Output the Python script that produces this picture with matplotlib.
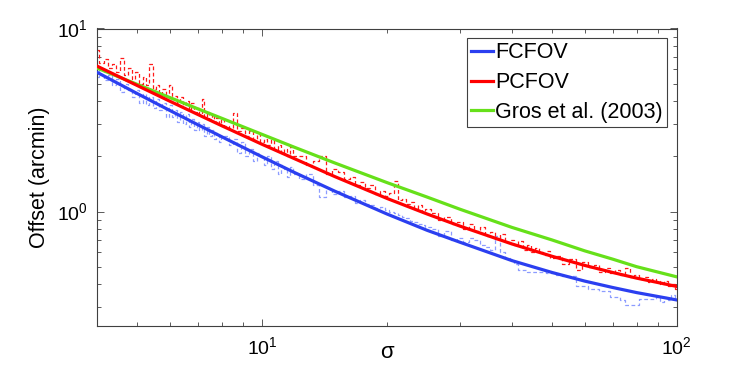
import matplotlib
matplotlib.use('Agg')
import matplotlib.pyplot as plt

plt.rcParams['font.family'] = ['Liberation Sans', 'DejaVu Sans']
plt.rcParams['mathtext.fontset'] = 'custom'
plt.rcParams['mathtext.rm'] = 'Liberation Sans'
plt.rcParams['mathtext.it'] = 'Liberation Sans:italic'

# smooth curves
sig_fit = [4, 5, 6, 7, 8, 10, 12, 15, 20, 25, 30, 40, 50, 60, 70, 80, 100]
fcfov_fit = [5.76, 4.41, 3.56, 2.98, 2.56, 1.99, 1.63, 1.29, 0.97, 0.79, 0.68,
             0.54, 0.465, 0.417, 0.385, 0.361, 0.329]
pcfov_fit = [6.23, 4.88, 4.00, 3.39, 2.94, 2.33, 1.94, 1.55, 1.18, 0.97, 0.833,
             0.666, 0.570, 0.508, 0.465, 0.433, 0.39]
gros_fit = [6.08, 4.95, 4.19, 3.64, 3.23, 2.64, 2.24, 1.84, 1.44, 1.20, 1.03,
            0.82, 0.70, 0.61, 0.55, 0.50, 0.44]

# binned measurements (dashed, noisy)
sig_bins = [4.0, 4.1, 4.2, 4.3, 4.4, 4.5, 4.6, 4.7, 4.8, 4.9,
            5.0, 5.1, 5.2, 5.3, 5.4, 5.5, 5.6, 5.7, 5.8, 5.9,
            6.0, 6.1, 6.2, 6.3, 6.4, 6.5, 6.6, 6.7, 6.8, 6.9,
            7.0, 7.1, 7.2, 7.3, 7.4, 7.5, 7.6, 7.7, 7.8, 7.9, 8.0,
            8.2, 8.4, 8.6, 8.8, 9.0, 9.2, 9.4, 9.6, 9.8, 10.0,
            10.2, 10.4, 10.6, 10.8, 11.0, 11.2, 11.4, 11.6, 11.8, 12.0,
            12.5, 13.0, 13.5, 14.0, 14.5, 15.0, 15.5, 16.0, 16.5, 17.0,
            17.5, 18.0, 18.5, 19.0, 19.5, 20.0, 20.5, 21.0, 21.5, 22.0,
            22.5, 23.0, 23.5, 24.0, 24.5, 25.0,
            26, 27, 28, 29, 30, 31, 32, 33, 34, 35, 36, 37, 38, 39, 40,
            41, 42, 43, 44, 45, 46, 47, 48, 49, 50,
            52, 54, 56, 58, 60, 62, 64, 66, 68, 70, 72, 74, 76, 78, 80,
            82, 84, 86, 88, 90, 92, 94, 96, 98, 100]
pcfov_meas = [7.6, 6.5, 6.8, 6.1, 6.4, 5.8, 6.9, 5.6, 6.1, 5.3,
              5.8, 5.0, 5.4, 4.9, 6.4, 4.7, 4.9, 4.4, 4.7, 4.2,
              4.9, 4.1, 4.3, 3.9, 4.2, 3.8, 4.0, 3.6, 3.9, 3.5,
              3.7, 3.4, 4.1, 3.3, 3.5, 3.2, 3.4, 3.1, 3.25, 3.0, 3.2,
              2.95, 2.85, 3.45, 2.75, 2.85, 2.6, 2.75, 2.5, 2.65, 2.4,
              2.5, 2.3, 2.45, 2.2, 2.3, 2.1, 2.2, 2.0, 2.25, 2.0,
              2.0, 1.8, 1.9, 2.0, 1.6, 1.7, 1.65, 1.5, 1.55, 1.4,
              1.45, 1.35, 1.4, 1.25, 1.3, 1.22, 1.27, 1.47, 1.16, 1.17,
              1.1, 1.13, 1.04, 1.09, 1.0, 1.03,
              0.98, 0.90, 0.93, 0.85, 0.88, 0.80, 0.86, 0.78, 0.82, 0.74,
              0.77, 0.71, 0.75, 0.68, 0.70, 0.66, 0.69, 0.62, 0.66, 0.60,
              0.63, 0.60, 0.58, 0.61, 0.56,
              0.57, 0.52, 0.55, 0.48, 0.53, 0.50, 0.51, 0.47, 0.49, 0.46,
              0.48, 0.45, 0.49, 0.44, 0.45, 0.43, 0.44, 0.41, 0.43, 0.42,
              0.40, 0.42, 0.39, 0.40, 0.38]
fcfov_meas = [5.4, 5.9, 5.2, 5.6, 4.9, 5.3, 4.5, 5.0, 4.6, 4.2,
              4.6, 3.9, 4.4, 3.8, 4.2, 3.7, 4.1, 3.6, 3.9, 3.3,
              3.8, 3.3, 3.6, 3.1, 3.5, 3.0, 3.4, 2.9, 3.2, 2.8,
              3.1, 2.8, 3.0, 2.6, 2.9, 2.6, 2.8, 2.5, 2.7, 2.4, 2.6,
              2.6, 2.3, 2.5, 2.1, 2.4, 2.0, 2.2, 1.9, 2.1, 2.0,
              1.8, 2.0, 1.7, 1.9, 1.6, 1.8, 1.7, 1.55, 1.75, 1.6,
              1.5, 1.6, 1.4, 1.2, 1.35, 1.25, 1.3, 1.2, 1.22, 1.12,
              1.15, 1.1, 1.08, 1.05, 1.06, 1.02, 1.0, 0.98, 0.96, 0.93,
              0.92, 0.89, 0.88, 0.86, 0.84, 0.82,
              0.80, 0.74, 0.78, 0.70, 0.72, 0.68, 0.72, 0.70, 0.66, 0.64,
              0.62, 0.74, 0.60, 0.56, 0.55, 0.52, 0.48, 0.48, 0.47, 0.47,
              0.47, 0.47, 0.47, 0.46, 0.46,
              0.45, 0.445, 0.445, 0.39, 0.39, 0.38, 0.38, 0.37, 0.37, 0.34,
              0.34, 0.33, 0.31, 0.31, 0.31, 0.335, 0.335, 0.335, 0.335, 0.34,
              0.32, 0.34, 0.33, 0.35, 0.34]

fig = plt.figure(figsize=(7.47, 3.8), dpi=100)
ax = fig.add_axes([0.130, 0.142, 0.776, 0.783])

ax.plot(sig_bins, fcfov_meas, color='#8c9cff', lw=0.9, ls=(0, (3, 2)),
        drawstyle='steps-mid', zorder=1)
ax.plot(sig_bins, pcfov_meas, color='#ff1a1a', lw=0.9, ls=(0, (3, 2)),
        drawstyle='steps-mid', zorder=2)

ax.plot(sig_fit, fcfov_fit, color='#2b3ff0', lw=2.3, label='FCFOV', zorder=3)
ax.plot(sig_fit, pcfov_fit, color='#ff0000', lw=2.3, label='PCFOV', zorder=4)
ax.plot(sig_fit, gros_fit, color='#66e01a', lw=2.3, label='Gros et al. (2003)', zorder=3)

ax.set_xscale('log')
ax.set_yscale('log')
ax.set_xlim(4, 100)
ax.set_ylim(0.237, 10)

for sp in ax.spines.values():
    sp.set_color('#404040')
    sp.set_linewidth(0.8)
ax.tick_params(which='both', direction='in', top=True, right=True,
               color='#404040', width=0.6, labelsize=14)
ax.tick_params(which='major', length=5, pad=7)
ax.tick_params(which='minor', length=3, labelbottom=False, labelleft=False)

ax.set_xlabel('σ', fontsize=16)
ax.xaxis.set_label_coords(0.5, -0.055)
ax.set_ylabel('Offset (arcmin)', fontsize=15.5)
ax.yaxis.set_label_coords(-0.081, 0.5)

leg = ax.legend(loc='upper right', fontsize=15.5, handlelength=1.0,
                handletextpad=0.1, borderpad=0.2, labelspacing=0.4,
                borderaxespad=0.45, fancybox=False, framealpha=1)
leg.get_frame().set_edgecolor('#404040')
leg.get_frame().set_linewidth(0.8)

fig.savefig('out.png', dpi=100)
